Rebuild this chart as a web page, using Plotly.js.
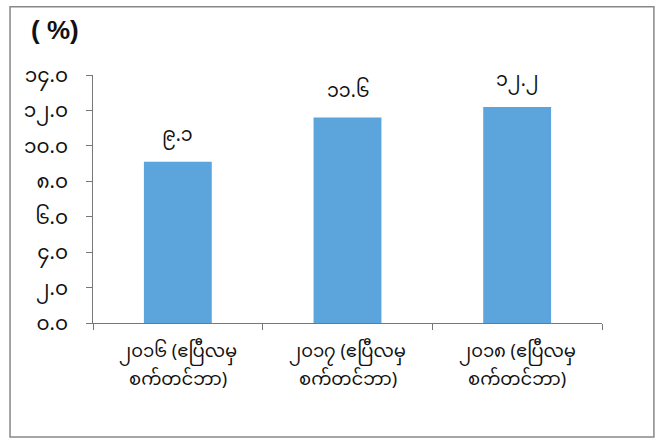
<!DOCTYPE html>
<html>
<head>
<meta charset="utf-8">
<script src="https://cdn.plot.ly/plotly-3.0.1.min.js"></script>
<style>html,body{margin:0;padding:0;background:#fff;}#chart{width:664px;height:444px;}</style>
</head>
<body>
<div id="chart"></div>
<script>
const categories = ["၂၀၁၆ (ဧပြီလမှ|စက်တင်ဘာ)", "၂၀၁၇ (ဧပြီလမှ|စက်တင်ဘာ)", "၂၀၁၈ (ဧပြီလမှ|စက်တင်ဘာ)"];
const values = [9.1, 11.6, 12.2];
const valueLabels = ["၉.၁", "၁၁.၆", "၁၂.၂"];
const yTickVals = [0, 2, 4, 6, 8, 10, 12, 14];
const yTickText = ["၀.၀", "၂.၀", "၄.၀", "၆.၀", "၈.၀", "၁၀.၀", "၁၂.၀", "၁၄.၀"];

const FONT = "'Noto Sans Myanmar', Padauk, 'Myanmar Text', 'Noto Sans', 'DejaVu Sans', sans-serif";

const trace = {
  type: "bar",
  x: categories,
  y: values,
  marker: {color: "#5ba4dc"},
  hoverinfo: "none"
};

const annotations = [{
  text: "<b>( %)</b>", xref: "paper", yref: "paper",
  x: -0.075, y: 1.18, xanchor: "center", yanchor: "middle",
  showarrow: false, font: {size: 26, color: "#111", family: "'Liberation Sans', Arial, sans-serif"}
}];

categories.forEach((c, i) => {
  const lines = c.split("|");
  annotations.push({
    text: valueLabels[i], xref: "x", yref: "y", x: c, y: values[i],
    xanchor: "center", yanchor: "middle", yshift: 25, showarrow: false,
    font: {size: 19, color: "#111", family: FONT}
  });
  lines.forEach((ln, j) => {
    annotations.push({
      text: ln, xref: "x", yref: "paper", x: c, y: 0,
      xanchor: "center", yanchor: "middle", yshift: -29 - 28 * j, showarrow: false,
      font: {size: 18, color: "#111", family: FONT}
    });
  });
});

const layout = {
  width: 664, height: 444,
  margin: {l: 93, r: 62, t: 75, b: 121},
  paper_bgcolor: "#fff", plot_bgcolor: "#fff",
  showlegend: false,
  bargap: 0.6,
  font: {family: FONT, size: 16, color: "#111"},
  xaxis: {
    type: "category",
    showline: true, linecolor: "#777", linewidth: 1,
    ticks: "outside", tickson: "boundaries", ticklen: 6, tickcolor: "#777",
    showticklabels: false,
    showgrid: false, zeroline: false
  },
  yaxis: {
    range: [0, 14],
    tickvals: yTickVals, ticktext: yTickText,
    showline: true, linecolor: "#777", linewidth: 1,
    ticks: "outside", ticklen: 6, tickcolor: "#777",
    ticklabelstandoff: 14,
    tickfont: {size: 20, family: FONT, color: "#111"},
    showgrid: false, zeroline: false
  },
  annotations: annotations,
  shapes: [{
    type: "rect", xref: "paper", yref: "paper",
    x0: -0.163, x1: 1.102, y0: -0.46, y1: 1.275,
    line: {color: "#888", width: 1.5}, fillcolor: "rgba(0,0,0,0)", layer: "below"
  }]
};

Plotly.newPlot("chart", [trace], layout, {staticPlot: true});
</script>
</body>
</html>
